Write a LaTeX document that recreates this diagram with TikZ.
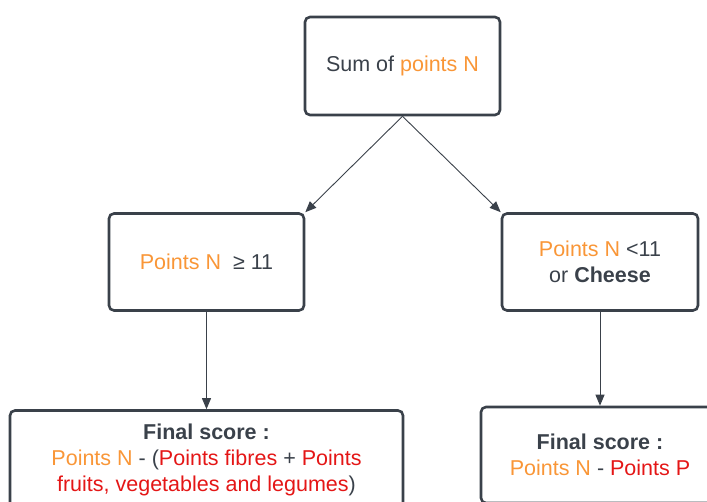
\documentclass[tikz,border=0pt]{standalone}
\usepackage{fontspec}
\setmainfont{Liberation Sans}
\usetikzlibrary{arrows.meta}
\definecolor{dk}{RGB}{58,65,74}
\definecolor{orng}{RGB}{249,150,55}
\definecolor{rd}{RGB}{228,22,22}
\begin{document}
\begin{tikzpicture}[x=1pt,y=-1pt,
  txt/.style={text=dk, align=center, font=\fontsize{21.5}{26}\selectfont, inner sep=0pt},
  box/.style={txt, draw=dk, line width=2.6pt, rounded corners=5pt},
  conn/.style={draw=dk, line width=0.9pt, -{Triangle[length=11pt,width=9pt]}}]
\useasboundingbox (0,0) rectangle (707,502);
\clip (0,0) rectangle (707,502);
\node[box, minimum width=195pt, minimum height=98pt] (top) at (402.5,66)
  {Sum of \textcolor{orng}{points N}};
\node[box, minimum width=195pt, minimum height=97pt] (lm) at (206.5,262)
  {\textcolor{orng}{Points N}\ \ ≥ 11};
\node[box, minimum width=196pt, minimum height=97pt] (rm) at (600,262)
  {\textcolor{orng}{Points N} <11\\or \textbf{Cheese}};
\node[box, minimum width=393pt, minimum height=98pt] (bl) at (206.5,459.5)
  {\textbf{Final score :}\\\textcolor{orng}{Points N} - (\textcolor{rd}{Points fibres} + \textcolor{rd}{Points}\\\textcolor{rd}{fruits, vegetables and legumes})};
\node[box, minimum width=262pt, minimum height=96pt] (br) at (612,455) {};
\node[txt] (brt) at (600,455)
  {\textbf{Final score :}\\\textcolor{orng}{Points N} - \textcolor{rd}{Points P}};
\draw[conn] (top.south) -- (lm.north east);
\draw[conn] (top.south) -- (rm.north west);
\draw[conn] (lm.south) -- (bl.north);
\draw[conn] (rm.south) -- (rm.south |- br.north);
\end{tikzpicture}
\end{document}
